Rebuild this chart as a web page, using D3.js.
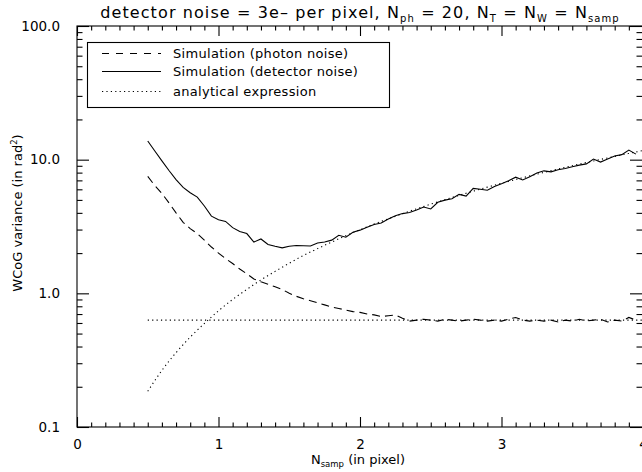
<!DOCTYPE html>
<html>
<head>
<meta charset="utf-8">
<script src="https://cdn.jsdelivr.net/npm/d3@7/dist/d3.min.js"></script>
<style>
  html, body { margin: 0; padding: 0; background: #fff; }
  svg { display: block; }
  text { font-family: "DejaVu Sans", sans-serif; fill: #000; }
</style>
</head>
<body>
<svg id="chart" width="642" height="472"></svg>
<script>
// ---------------- data ----------------
const xSim = [0.50,0.55,0.60,0.65,0.70,0.75,0.80,0.85,0.90,0.95,
              1.00,1.05,1.10,1.15,1.20,1.25,1.30,1.35,1.40,1.45,
              1.50,1.55,1.60,1.65,1.70,1.75,1.80,1.85,1.90,1.95,
              2.00,2.05,2.10,2.15,2.20,2.25,2.30,2.35,2.40,2.45,
              2.50,2.55,2.60,2.65,2.70,2.75,2.80,2.85,2.90,2.95,
              3.00,3.05,3.10,3.15,3.20,3.25,3.30,3.35,3.40,3.45,
              3.50,3.55,3.60,3.65,3.70,3.75,3.80,3.85,3.90,3.95];
// Simulation (photon noise) - dashed
const photonSim = [7.5,6.4,5.6,4.75,4.0,3.4,3.05,2.8,2.5,2.22,
                   2.0,1.82,1.67,1.52,1.4,1.28,1.22,1.17,1.12,1.07,
                   1.0,0.95,0.91,0.88,0.85,0.82,0.79,0.77,0.75,0.73,
                   0.72,0.70,0.69,0.67,0.68,0.69,0.65,0.62,0.63,0.64,
                   0.63,0.62,0.64,0.63,0.62,0.63,0.64,0.63,0.62,0.63,
                   0.62,0.64,0.66,0.63,0.62,0.63,0.62,0.63,0.61,0.63,
                   0.62,0.64,0.62,0.63,0.64,0.61,0.63,0.62,0.66,0.63];
// Simulation (detector noise) - solid
const detectorSim = [13.8,11.6,9.8,8.3,7.1,6.2,5.65,5.25,4.5,3.78,
                     3.55,3.45,3.1,2.9,2.8,2.42,2.55,2.32,2.25,2.19,
                     2.25,2.28,2.27,2.26,2.38,2.42,2.5,2.72,2.63,2.86,
                     2.97,3.12,3.27,3.36,3.6,3.8,3.95,4.02,4.2,4.42,
                     4.28,4.8,4.98,5.1,5.5,5.34,6.1,6.0,5.9,6.3,
                     6.6,6.95,7.4,7.05,7.45,7.95,8.25,8.1,8.4,8.6,
                     8.85,9.1,9.3,10.1,9.6,10.1,10.65,10.9,11.8,11.0];
// analytical expression - dotted (two curves)
const xAna = [0.5,0.6,0.7,0.8,0.9,1.0,1.1,1.2,1.3,1.4,1.5,1.6,1.7,1.8,1.9,
              2.0,2.1,2.2,2.3,2.4,2.5,2.6,2.7,2.8,2.9,3.0,3.1,3.2,3.3,3.4,
              3.5,3.6,3.7,3.8,3.9,4.0];
const anaDetector = [0.185,0.265,0.36,0.47,0.595,0.74,0.90,1.07,1.26,1.46,
                     1.68,1.92,2.16,2.42,2.70,2.99,3.30,3.61,3.94,4.29,
                     4.65,5.02,5.41,5.81,6.23,6.66,7.10,7.56,8.03,8.51,
                     9.01,9.52,10.04,10.58,11.13,11.7];
const xAnaFlat = [0.5, 4.0];
const anaPhoton = [0.63, 0.63];

const xTicks = [0, 1, 2, 3, 4];
const xTickLabels = ["0", "1", "2", "3", "4"];
const yTicks = [0.1, 1, 10, 100];
const yTickLabels = ["0.1", "1.0", "10.0", "100.0"];
const legendLabels = ["Simulation (photon noise)", "Simulation (detector noise)", "analytical expression"];

// ---------------- layout ----------------
const svg = d3.select("#chart");
const L = 77, R = 643, T = 26, B = 427;
const x = d3.scaleLinear().domain([0, 4]).range([L, R]);
const y = d3.scaleLog().domain([0.1, 100]).range([B, T]);

const g = svg.append("g");

// frame
g.append("rect").attr("x", L).attr("y", T).attr("width", R - L).attr("height", B - T)
  .attr("fill", "none").attr("stroke", "#000").attr("stroke-width", 1.1);

// minor ticks
const xMinor = d3.range(0, 41).map(i => i / 10).filter(v => !xTicks.includes(v));
const yMinor = [];
[0.1, 1, 10].forEach(d => { for (let k = 2; k <= 9; k++) yMinor.push(d * k); });

function styleAxis(sel) {
  sel.select(".domain").remove();
  sel.selectAll("line").attr("stroke", "#000").attr("stroke-width", 1.1);
}
// bottom
g.append("g").attr("transform", `translate(0,${B})`)
  .call(d3.axisBottom(x).tickValues(xTicks).tickSize(-10).tickFormat((d, i) => xTickLabels[i]).tickPadding(12))
  .call(styleAxis)
  .call(s => s.selectAll("text").attr("font-size", 13.5).attr("font-family", "DejaVu Sans"));
g.append("g").attr("transform", `translate(0,${B})`)
  .call(d3.axisBottom(x).tickValues(xMinor).tickSize(-4.5).tickFormat(""))
  .call(styleAxis);
// top
g.append("g").attr("transform", `translate(0,${T})`)
  .call(d3.axisTop(x).tickValues(xTicks).tickSize(-10).tickFormat(""))
  .call(styleAxis);
g.append("g").attr("transform", `translate(0,${T})`)
  .call(d3.axisTop(x).tickValues(xMinor).tickSize(-4.5).tickFormat(""))
  .call(styleAxis);
// left
g.append("g").attr("transform", `translate(${L},0)`)
  .call(d3.axisLeft(y).tickValues(yTicks).tickSize(-12).tickFormat((d, i) => yTickLabels[i]).tickPadding(17))
  .call(styleAxis)
  .call(s => s.selectAll("text").attr("font-size", 13.5).attr("font-family", "DejaVu Sans"));
g.append("g").attr("transform", `translate(${L},0)`)
  .call(d3.axisLeft(y).tickValues(yMinor).tickSize(-5.5).tickFormat(""))
  .call(styleAxis);
// right
g.append("g").attr("transform", `translate(${R - 1},0)`)
  .call(d3.axisRight(y).tickValues(yTicks).tickSize(-12).tickFormat(""))
  .call(styleAxis);
g.append("g").attr("transform", `translate(${R - 1},0)`)
  .call(d3.axisRight(y).tickValues(yMinor).tickSize(-5.5).tickFormat(""))
  .call(styleAxis);

// ---------------- lines ----------------
const line = d3.line().x(d => x(d[0])).y(d => y(d[1]));
const smooth = d3.line().curve(d3.curveMonotoneX).x(d => x(d[0])).y(d => y(d[1]));
const zip = (xs, ys) => xs.map((v, i) => [v, ys[i]]);

g.append("path").datum(zip(xAnaFlat, anaPhoton)).attr("d", line)
  .attr("fill", "none").attr("stroke", "#000").attr("stroke-width", 1.1).attr("stroke-dasharray", "1.2,3.2");
g.append("path").datum(zip(xAna, anaDetector)).attr("d", smooth)
  .attr("fill", "none").attr("stroke", "#000").attr("stroke-width", 1.1).attr("stroke-dasharray", "1.2,3.2");
g.append("path").datum(zip(xSim, photonSim)).attr("d", line)
  .attr("fill", "none").attr("stroke", "#000").attr("stroke-width", 1.1).attr("stroke-dasharray", "8,5");
g.append("path").datum(zip(xSim, detectorSim)).attr("d", line)
  .attr("fill", "none").attr("stroke", "#000").attr("stroke-width", 1.1);

// ---------------- legend ----------------
const lg = g.append("g");
lg.append("rect").attr("x", 87.5).attr("y", 42.5).attr("width", 302).attr("height", 65)
  .attr("fill", "#fff").attr("stroke", "#000").attr("stroke-width", 1.1);
const dashes = ["7,7", null, "1.2,3.2"];
const rowY = [53.5, 71.5, 91.5];
legendLabels.forEach((lab, i) => {
  const yy = rowY[i];
  const ln = lg.append("line").attr("x1", 102).attr("x2", 161).attr("y1", yy).attr("y2", yy)
    .attr("stroke", "#000").attr("stroke-width", 1.1);
  if (dashes[i]) ln.attr("stroke-dasharray", dashes[i]);
  lg.append("text").attr("x", 173).attr("y", yy).attr("dy", "0.35em")
    .attr("font-size", 13).attr("letter-spacing", 0.3).text(lab);
});

// ---------------- titles ----------------
const title = svg.append("text").attr("x", (L + R) / 2).attr("y", 18)
  .attr("text-anchor", "middle").attr("font-size", 16).attr("letter-spacing", 1.1);
const sub = (t, s) => { t.append("tspan").attr("font-size", 10).attr("dy", 4).text(s); };
title.append("tspan").text("detector noise = 3e\u2013 per pixel, N");
sub(title, "ph");
title.append("tspan").attr("dy", -4).text(" = 20, N");
sub(title, "T");
title.append("tspan").attr("dy", -4).text(" = N");
sub(title, "W");
title.append("tspan").attr("dy", -4).text(" = N");
sub(title, "samp");

const xl = svg.append("text").attr("x", 358).attr("y", 464).attr("text-anchor", "middle").attr("font-size", 13);
xl.append("tspan").text("N");
xl.append("tspan").attr("font-size", 8.5).attr("dy", 3).text("samp");
xl.append("tspan").attr("dy", -3).text(" (in pixel)");

const yl = svg.append("text").attr("transform", "translate(22,213) rotate(-90)")
  .attr("text-anchor", "middle").attr("font-size", 13);
yl.append("tspan").text("WCoG variance (in rad");
yl.append("tspan").attr("font-size", 8.5).attr("dy", -5).text("2");
yl.append("tspan").attr("dy", 5).text(")");
</script>
</body>
</html>
